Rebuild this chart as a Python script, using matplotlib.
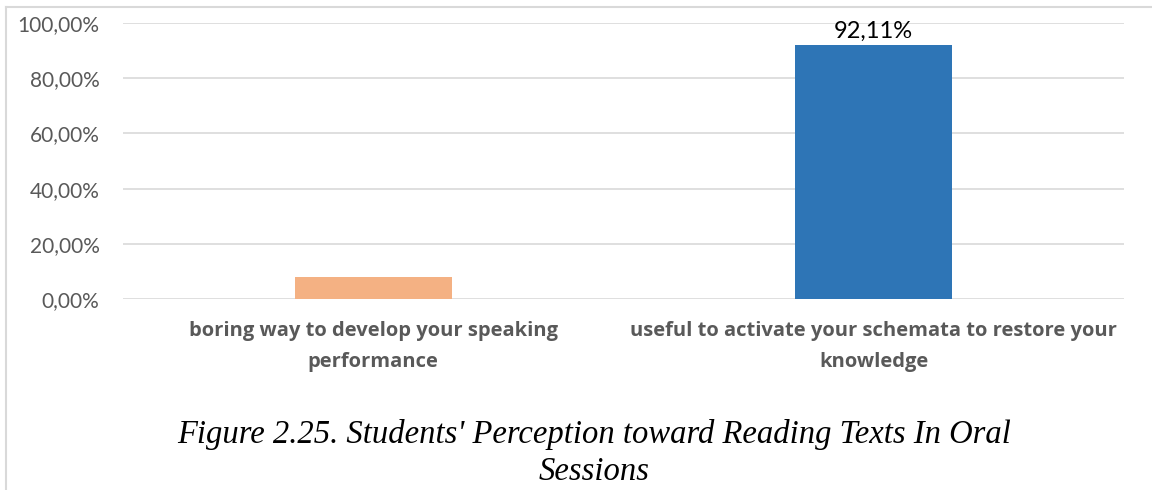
import matplotlib.pyplot as plt
from matplotlib.lines import Line2D

# chart data
categories = ['boring way to develop your speaking\nperformance',
              'useful to activate your schemata to restore your\nknowledge']
values = [7.89, 92.11]
colors = ['#f4b183', '#2e75b6']
yticks = [0, 20, 40, 60, 80, 100]
caption = "Figure 2.25. Students' Perception toward Reading Texts In Oral\nSessions"

fig = plt.figure(figsize=(11.52, 4.9), dpi=100)
ax = fig.add_axes([123/1152, 1-299/490, 1001/1152, 276/490])

x = range(len(categories))
ax.bar(x, values, width=0.314, color=colors, zorder=3)
ax.set_xlim(-0.5, 1.5)
ax.set_ylim(0, 100)

ax.set_yticks(yticks)
ax.set_yticklabels(['%d,00%%' % t for t in yticks], fontsize=15,
                   color='#595959', family='Lato')
ax.set_xticks(list(x))
ax.set_xticklabels(categories, fontsize=14.5, color='#595959',
                   fontweight='bold', family='Open Sans', linespacing=1.7)
ax.tick_params(length=0)
ax.tick_params(axis='y', pad=17)
ax.tick_params(axis='x', pad=16)
ax.grid(axis='y', color='#d9d9d9', linewidth=1.2, zorder=0)
for s in ax.spines.values():
    s.set_visible(False)

# only the larger bar carries a value label
ax.text(1, values[1] + 1, '92,11%', ha='center', va='bottom',
        fontsize=17, family='Lato', color='#000000')

# outer frame (top and left edges only)
fig.add_artist(Line2D([6/1152, 1], [1-7/490, 1-7/490], color='#d9d9d9',
                      linewidth=1.5, transform=fig.transFigure))
fig.add_artist(Line2D([6/1152, 6/1152], [0, 1-7/490], color='#d9d9d9',
                      linewidth=1.5, transform=fig.transFigure))

fig.text(594/1152, 1-453/490, caption, ha='center', va='center',
         fontsize=23.5, style='italic', family='Liberation Serif',
         linespacing=1.3)

fig.savefig('out.png', dpi=100)
